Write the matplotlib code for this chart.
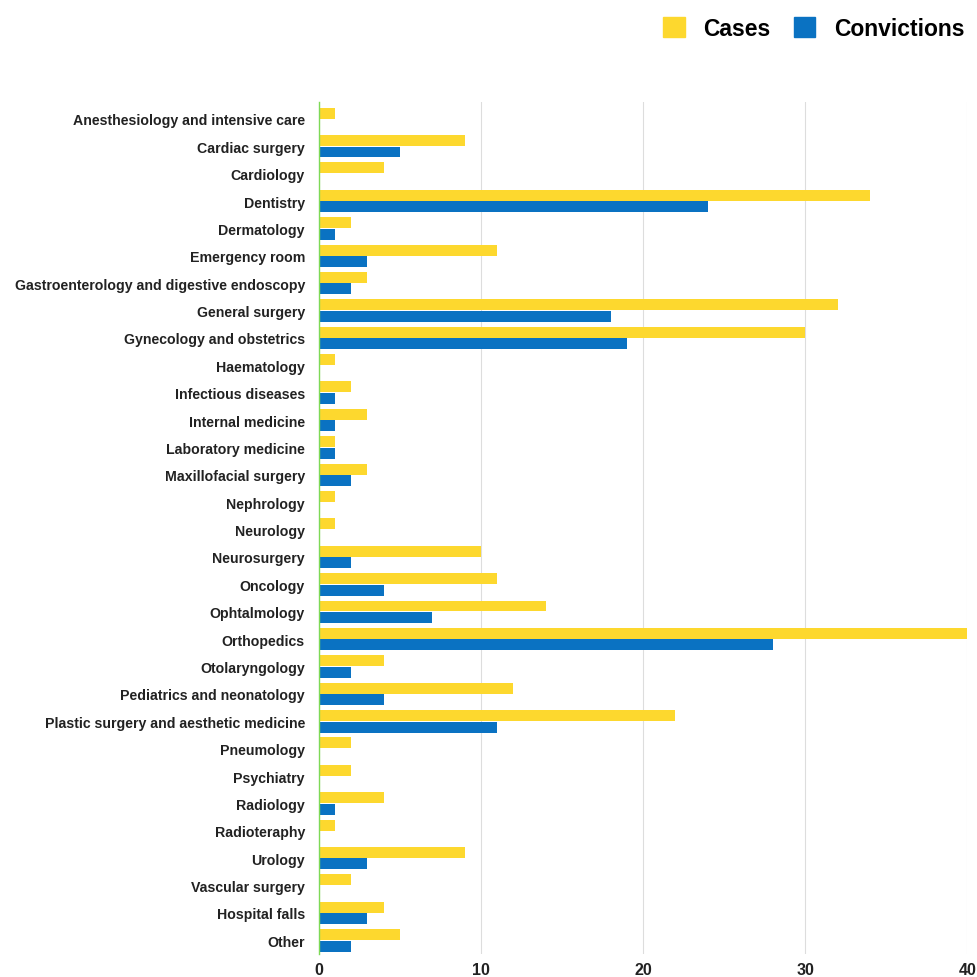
import numpy as np
import matplotlib.pyplot as plt
from matplotlib.patches import Patch

categories = ['Anesthesiology and intensive care', 'Cardiac surgery', 'Cardiology',
              'Dentistry', 'Dermatology', 'Emergency room',
              'Gastroenterology and digestive endoscopy', 'General surgery',
              'Gynecology and obstetrics', 'Haematology', 'Infectious diseases',
              'Internal medicine', 'Laboratory medicine', 'Maxillofacial surgery',
              'Nephrology', 'Neurology', 'Neurosurgery', 'Oncology', 'Ophtalmology',
              'Orthopedics', 'Otolaryngology', 'Pediatrics and neonatology',
              'Plastic surgery and aesthetic medicine', 'Pneumology', 'Psychiatry',
              'Radiology', 'Radioteraphy', 'Urology', 'Vascular surgery',
              'Hospital falls', 'Other']
cases = [1, 9, 4, 34, 2, 11, 3, 32, 30, 1, 2, 3, 1, 3, 1, 1, 10, 11, 14, 40,
         4, 12, 22, 2, 2, 4, 1, 9, 2, 4, 5]
convictions = [0, 5, 0, 24, 1, 3, 2, 18, 19, 0, 1, 1, 1, 2, 0, 0, 2, 4, 7, 28,
               2, 4, 11, 0, 0, 1, 0, 3, 0, 3, 2]
xticks = [0, 10, 20, 30, 40]

yellow = '#FDD82E'
blue = '#0A72C2'

plt.rcParams['font.family'] = ['Liberation Sans', 'DejaVu Sans']

fig = plt.figure(figsize=(9.78, 9.78), dpi=100)
ax = fig.add_axes([0.326, 0.0235, 0.663, 0.871])

y = np.arange(len(categories))
h = 0.4
ax.barh(y - 0.21, cases, height=h, color=yellow, zorder=2)
ax.barh(y + 0.21, convictions, height=h, color=blue, zorder=2)

ax.set_ylim(len(categories) - 0.5, -0.61)
ax.set_xlim(0, 40)
ax.set_yticks(y)
ax.set_yticklabels(categories, fontsize=10.2, fontweight='bold', color='#222222')
ax.set_xticks(xticks)
ax.set_xticklabels([str(t) for t in xticks], fontsize=11.5, fontweight='bold',
                   color='#222222')
ax.tick_params(axis='y', length=0, pad=10)
ax.tick_params(axis='x', length=0, pad=6)

ax.grid(axis='x', color='#dddddd', linewidth=0.8, zorder=0)
for s in ['top', 'right', 'bottom']:
    ax.spines[s].set_visible(False)
ax.spines['left'].set_color('#7ed957')
ax.spines['left'].set_linewidth(1)
ax.spines['left'].set_zorder(3)

handles = [Patch(color=yellow, label='Cases'), Patch(color=blue, label='Convictions')]
fig.legend(handles=handles, loc='upper right', bbox_to_anchor=(1.007, 1.003), ncol=2,
           frameon=False, handlelength=0.95, handleheight=0.95,
           columnspacing=1.0, handletextpad=0.8,
           prop={'size': 16.5, 'weight': 'bold'})

fig.savefig('out.png', dpi=100)
